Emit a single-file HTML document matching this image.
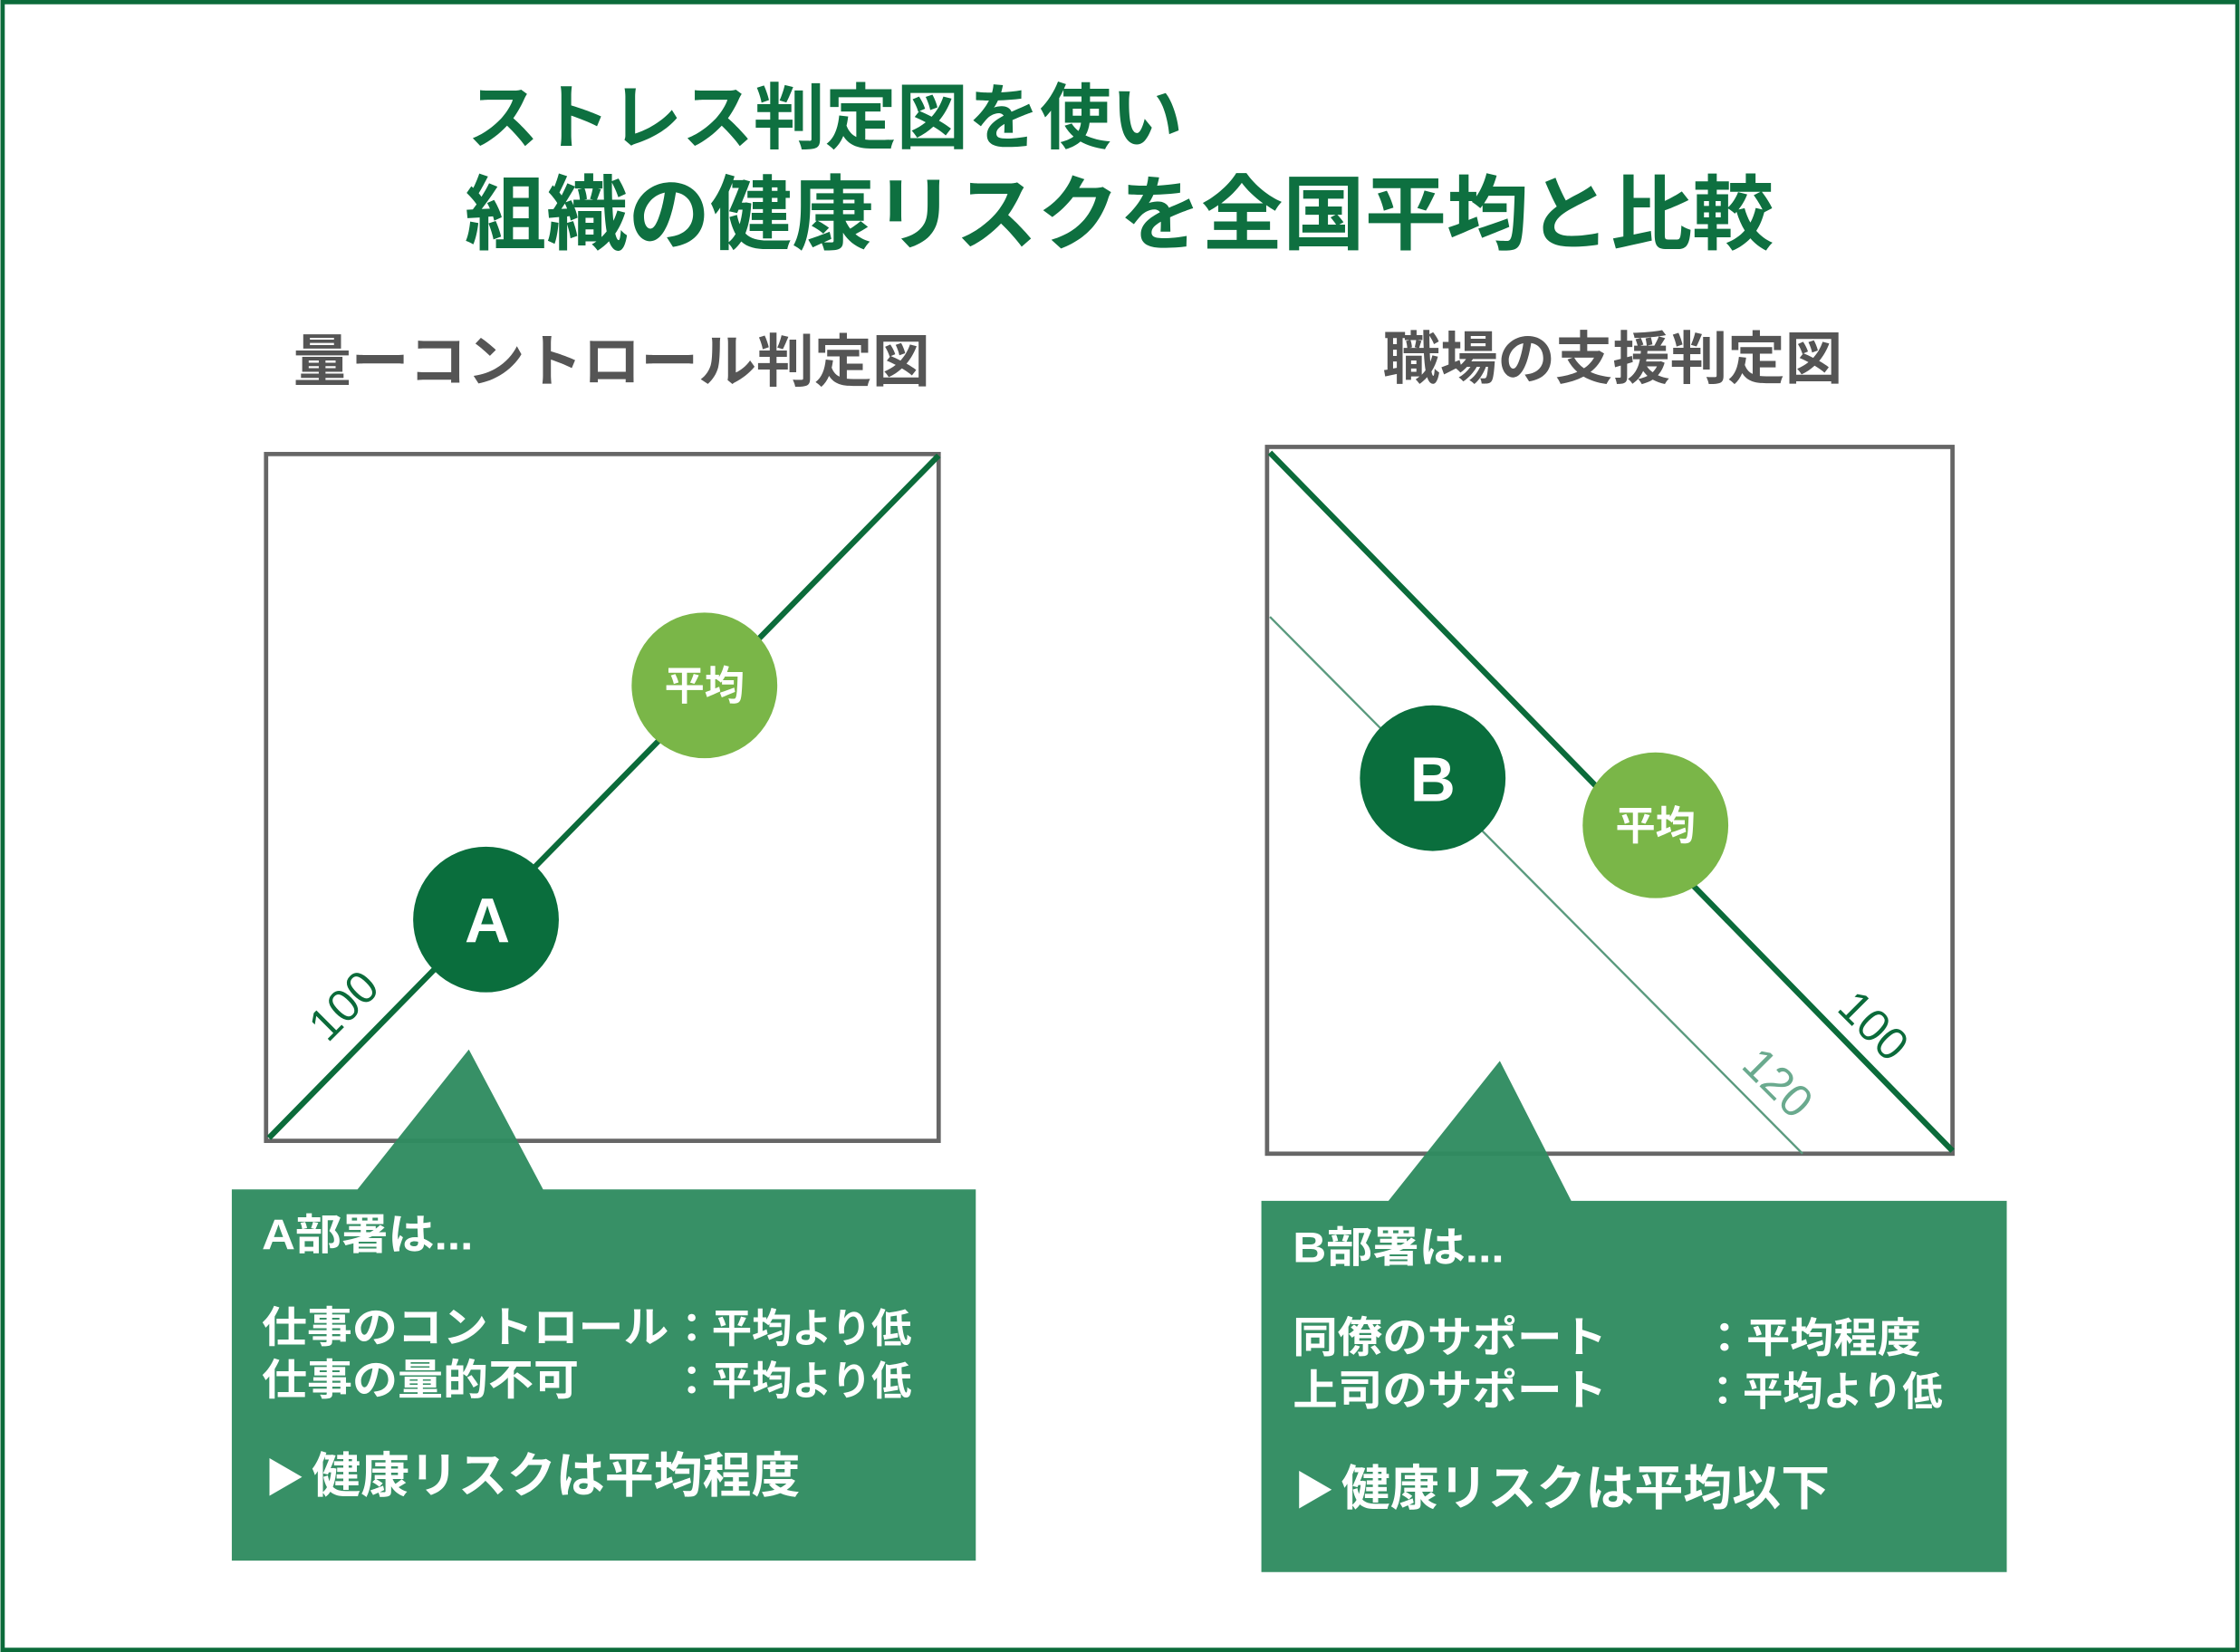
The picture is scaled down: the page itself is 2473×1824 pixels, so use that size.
<!DOCTYPE html>
<html><head><meta charset="utf-8">
<style>
html,body{margin:0;padding:0;background:#fff;}
svg{display:block;}
text{font-family:"Liberation Sans","Noto Sans CJK JP",sans-serif;}
</style></head><body>
<svg width="2473" height="1824" viewBox="0 0 1568 1157" xmlns="http://www.w3.org/2000/svg">
<rect x="1.5" y="1.5" width="1565" height="1154" fill="#fff" stroke="#0b6b3a" stroke-width="3"/>
<text x="327" y="100" font-size="50" font-weight="bold" fill="#0e7040" textLength="501" lengthAdjust="spacingAndGlyphs">ストレス判定図を使い</text>
<text x="325" y="170" font-size="57" font-weight="bold" fill="#0e7040" textLength="917" lengthAdjust="spacingAndGlyphs">組織の健康リスクを全国平均と比較</text>
<text x="205" y="267" font-size="40" font-weight="bold" fill="#555" textLength="446" lengthAdjust="spacingAndGlyphs">量ーコントロール判定図</text>
<text x="968" y="265" font-size="40" font-weight="bold" fill="#555" textLength="322" lengthAdjust="spacingAndGlyphs">職場の支援判定図</text>

<!-- left chart -->
<rect x="186" y="318" width="471" height="481" fill="none" stroke="#666" stroke-width="3"/>
<line x1="188" y1="797" x2="657" y2="319" stroke="#0b6b3a" stroke-width="4"/>
<circle cx="493" cy="480" r="51" fill="#7ab648"/>
<text x="493" y="490" font-size="28" font-weight="bold" fill="#fff" text-anchor="middle">平均</text>
<circle cx="340" cy="644" r="51" fill="#0a6e3d"/>
<text x="341" y="660" font-size="44" font-weight="bold" fill="#fff" text-anchor="middle">A</text>
<text x="0" y="0" font-size="32" fill="#0b6b3a" font-family="Liberation Serif, serif" text-anchor="middle" transform="translate(248,712) rotate(-45)">100</text>
<polygon points="328,735 380,833 683,833 683,1093 162,1093 162,833 250,833" fill="#2f8b60" fill-opacity="0.96"/>
<text x="183" y="875" font-size="30" font-weight="bold" fill="#fff" textLength="148" lengthAdjust="spacingAndGlyphs">A部署は...</text>
<text x="183" y="940" font-size="30" font-weight="bold" fill="#fff" textLength="285" lengthAdjust="spacingAndGlyphs">仕事のコントロール</text>
<text x="470" y="940" font-size="28" font-weight="bold" fill="#fff" textLength="168" lengthAdjust="spacingAndGlyphs">：平均より低</text>
<text x="183" y="977" font-size="30" font-weight="bold" fill="#fff" textLength="222" lengthAdjust="spacingAndGlyphs">仕事の量的不可</text>
<text x="470" y="977" font-size="28" font-weight="bold" fill="#fff" textLength="168" lengthAdjust="spacingAndGlyphs">：平均より低</text>
<text x="185" y="1045" font-size="28" font-weight="bold" fill="#fff">▶</text>
<text x="218" y="1045" font-size="34" font-weight="bold" fill="#fff" textLength="342" lengthAdjust="spacingAndGlyphs">健康リスクは平均程度</text>

<!-- right chart -->
<rect x="887" y="313" width="480" height="495" fill="none" stroke="#666" stroke-width="3"/>
<line x1="889" y1="432" x2="1262" y2="808" stroke="#5a9a7e" stroke-width="1.5"/>
<line x1="889" y1="317" x2="1367" y2="806" stroke="#0b6b3a" stroke-width="4"/>
<circle cx="1003" cy="545" r="51" fill="#0a6e3d"/>
<text x="1003" y="561" font-size="44" font-weight="bold" fill="#fff" text-anchor="middle">B</text>
<circle cx="1159" cy="578" r="51" fill="#7ab648"/>
<text x="1159" y="588" font-size="28" font-weight="bold" fill="#fff" text-anchor="middle">平均</text>
<text x="0" y="0" font-size="32" fill="#0b6b3a" font-family="Liberation Serif, serif" text-anchor="middle" transform="translate(1304,726) rotate(45)">100</text>
<text x="0" y="0" font-size="32" fill="#6aaa8e" font-family="Liberation Serif, serif" text-anchor="middle" transform="translate(1237,766) rotate(45)">120</text>
<polygon points="1050,743 1100,841 1405,841 1405,1101 883,1101 883,841 972,841" fill="#2f8b60" fill-opacity="0.96"/>
<text x="905" y="884" font-size="30" font-weight="bold" fill="#fff" textLength="148" lengthAdjust="spacingAndGlyphs">B部署は...</text>
<text x="905" y="947" font-size="30" font-weight="bold" fill="#fff" textLength="220" lengthAdjust="spacingAndGlyphs">同僚のサポート</text>
<text x="1192" y="947" font-size="29" font-weight="bold" fill="#fff" textLength="153" lengthAdjust="spacingAndGlyphs">：平均程度</text>
<text x="905" y="984" font-size="30" font-weight="bold" fill="#fff" textLength="220" lengthAdjust="spacingAndGlyphs">上司のサポート</text>
<text x="1192" y="984" font-size="28" font-weight="bold" fill="#fff" textLength="168" lengthAdjust="spacingAndGlyphs">：平均より低</text>
<text x="906" y="1054" font-size="28" font-weight="bold" fill="#fff">▶</text>
<text x="939" y="1054" font-size="34" font-weight="bold" fill="#fff" textLength="342" lengthAdjust="spacingAndGlyphs">健康リスクは平均以下</text>
</svg>
</body></html>
